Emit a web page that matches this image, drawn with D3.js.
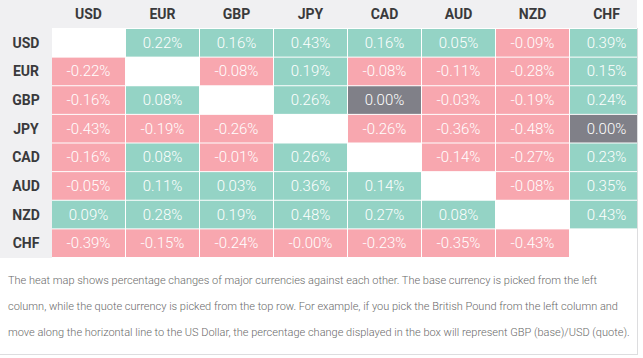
<!DOCTYPE html>
<html>
<head>
<meta charset="utf-8">
<script src="https://cdn.jsdelivr.net/npm/d3@7"></script>
<style>
  html, body { margin: 0; padding: 0; background: #fff; }
  svg { display: block; }
</style>
</head>
<body>
<svg id="chart" width="643" height="358"></svg>
<script>
const currencies = ["USD", "EUR", "GBP", "JPY", "CAD", "AUD", "NZD", "CHF"];
// rows = base currency, columns = quote currency (null = diagonal)
const rowUSD = [null, 0.22, 0.16, 0.43, 0.16, 0.05, -0.09, 0.39];
const rowEUR = [-0.22, null, -0.08, 0.19, -0.08, -0.11, -0.28, 0.15];
const rowGBP = [-0.16, 0.08, null, 0.26, 0.00, -0.03, -0.19, 0.24];
const rowJPY = [-0.43, -0.19, -0.26, null, -0.26, -0.36, -0.48, 0.00];
const rowCAD = [-0.16, 0.08, -0.01, 0.26, null, -0.14, -0.27, 0.23];
const rowAUD = [-0.05, 0.11, 0.03, 0.36, 0.14, null, -0.08, 0.35];
const rowNZD = [0.09, 0.28, 0.19, 0.48, 0.27, 0.08, null, 0.43];
const rowCHF = [-0.39, -0.15, -0.24, -0.0, -0.23, -0.35, -0.43, null];
const rows = [rowUSD, rowEUR, rowGBP, rowJPY, rowCAD, rowAUD, rowNZD, rowCHF];
const descriptionLines = [
  "The heat map shows percentage changes of major currencies against each other. The base currency is picked from the left",
  "column, while the quote currency is picked from the top row. For example, if you pick the British Pound from the left column and",
  "move along the horizontal line to the US Dollar, the percentage change displayed in the box will represent GBP (base)/USD (quote)."
];

const svg = d3.select("#chart");
const W = 643, H = 358;
const gridLeft = 52, gridTop = 29, gridRight = 637;
const x = d3.scaleBand().domain(currencies).range([gridLeft, gridLeft + 74 * 8]);
const y = d3.scaleBand().domain(currencies).range([gridTop, 258]);

const cells = [];
rows.forEach((r, i) => r.forEach((v, j) => cells.push({ base: currencies[i], quote: currencies[j], v })));

const isNeg = v => v < 0 || Object.is(v, -0);
const color = v => v === null ? "#ffffff" : isNeg(v) ? "#f8a7af" : v > 0 ? "#94d3c5" : "#808088";
const fmt = v => (isNeg(v) ? "-" : "") + Math.abs(v).toFixed(2) + "%";

// backgrounds
svg.append("rect").attr("x", 0).attr("y", 0).attr("width", gridRight).attr("height", 28).attr("fill", "#f0f0f2");
svg.append("rect").attr("x", 0).attr("y", 0).attr("width", gridLeft).attr("height", 258).attr("fill", "#f0f0f2");

svg.append("defs").append("clipPath").attr("id", "gridclip")
  .append("rect").attr("x", 0).attr("y", 0).attr("width", gridRight).attr("height", H);

const g = svg.append("g").attr("clip-path", "url(#gridclip)");

g.selectAll("rect.cell").data(cells).join("rect")
  .attr("class", "cell")
  .attr("x", d => x(d.quote))
  .attr("y", d => y(d.base))
  .attr("width", x.bandwidth() - 1)
  .attr("height", y.bandwidth() - 1)
  .attr("fill", d => color(d.v));

g.selectAll("text.val").data(cells.filter(d => d.v !== null)).join("text")
  .attr("class", "val")
  .attr("x", d => x(d.quote) + (x.bandwidth() - 1) / 2)
  .attr("y", d => y(d.base) + (y.bandwidth() - 1) / 2)
  .attr("text-anchor", "middle")
  .attr("dominant-baseline", "central")
  .attr("font-family", "Roboto, sans-serif")
  .attr("font-weight", 300)
  .attr("font-size", 15)
  .attr("fill", "#ffffff")
  .text(d => fmt(d.v));

// column headers
g.selectAll("text.colh").data(currencies).join("text")
  .attr("class", "colh")
  .attr("x", d => x(d) + (x.bandwidth() - 1) / 2)
  .attr("y", 14)
  .attr("text-anchor", "middle")
  .attr("dominant-baseline", "central")
  .attr("font-family", "Roboto, sans-serif")
  .attr("font-weight", 700)
  .attr("font-size", 14)
  .attr("fill", "#3a3a3c")
  .text(d => d);

// row headers
svg.selectAll("text.rowh").data(currencies).join("text")
  .attr("class", "rowh")
  .attr("x", gridLeft / 2)
  .attr("y", d => y(d) + (y.bandwidth() - 1) / 2)
  .attr("text-anchor", "middle")
  .attr("dominant-baseline", "central")
  .attr("font-family", "Roboto, sans-serif")
  .attr("font-weight", 700)
  .attr("font-size", 14)
  .attr("fill", "#3a3a3c")
  .text(d => d);

// right border & description box
svg.append("line").attr("x1", gridRight + 0.5).attr("x2", gridRight + 0.5).attr("y1", 28).attr("y2", 354)
  .attr("stroke", "#dddddf");
svg.append("line").attr("x1", 0).attr("x2", gridRight + 1).attr("y1", 354.5).attr("y2", 354.5)
  .attr("stroke", "#dddddf");

svg.selectAll("text.desc").data(descriptionLines).join("text")
  .attr("class", "desc")
  .attr("x", 8)
  .attr("y", (d, i) => 280 + i * 26)
  .attr("dominant-baseline", "central")
  .attr("font-family", "Roboto, sans-serif")
  .attr("font-weight", 300)
  .attr("font-size", 11)
  .attr("fill", "#6a6a6a")
  .text(d => d);
</script>
</body>
</html>
